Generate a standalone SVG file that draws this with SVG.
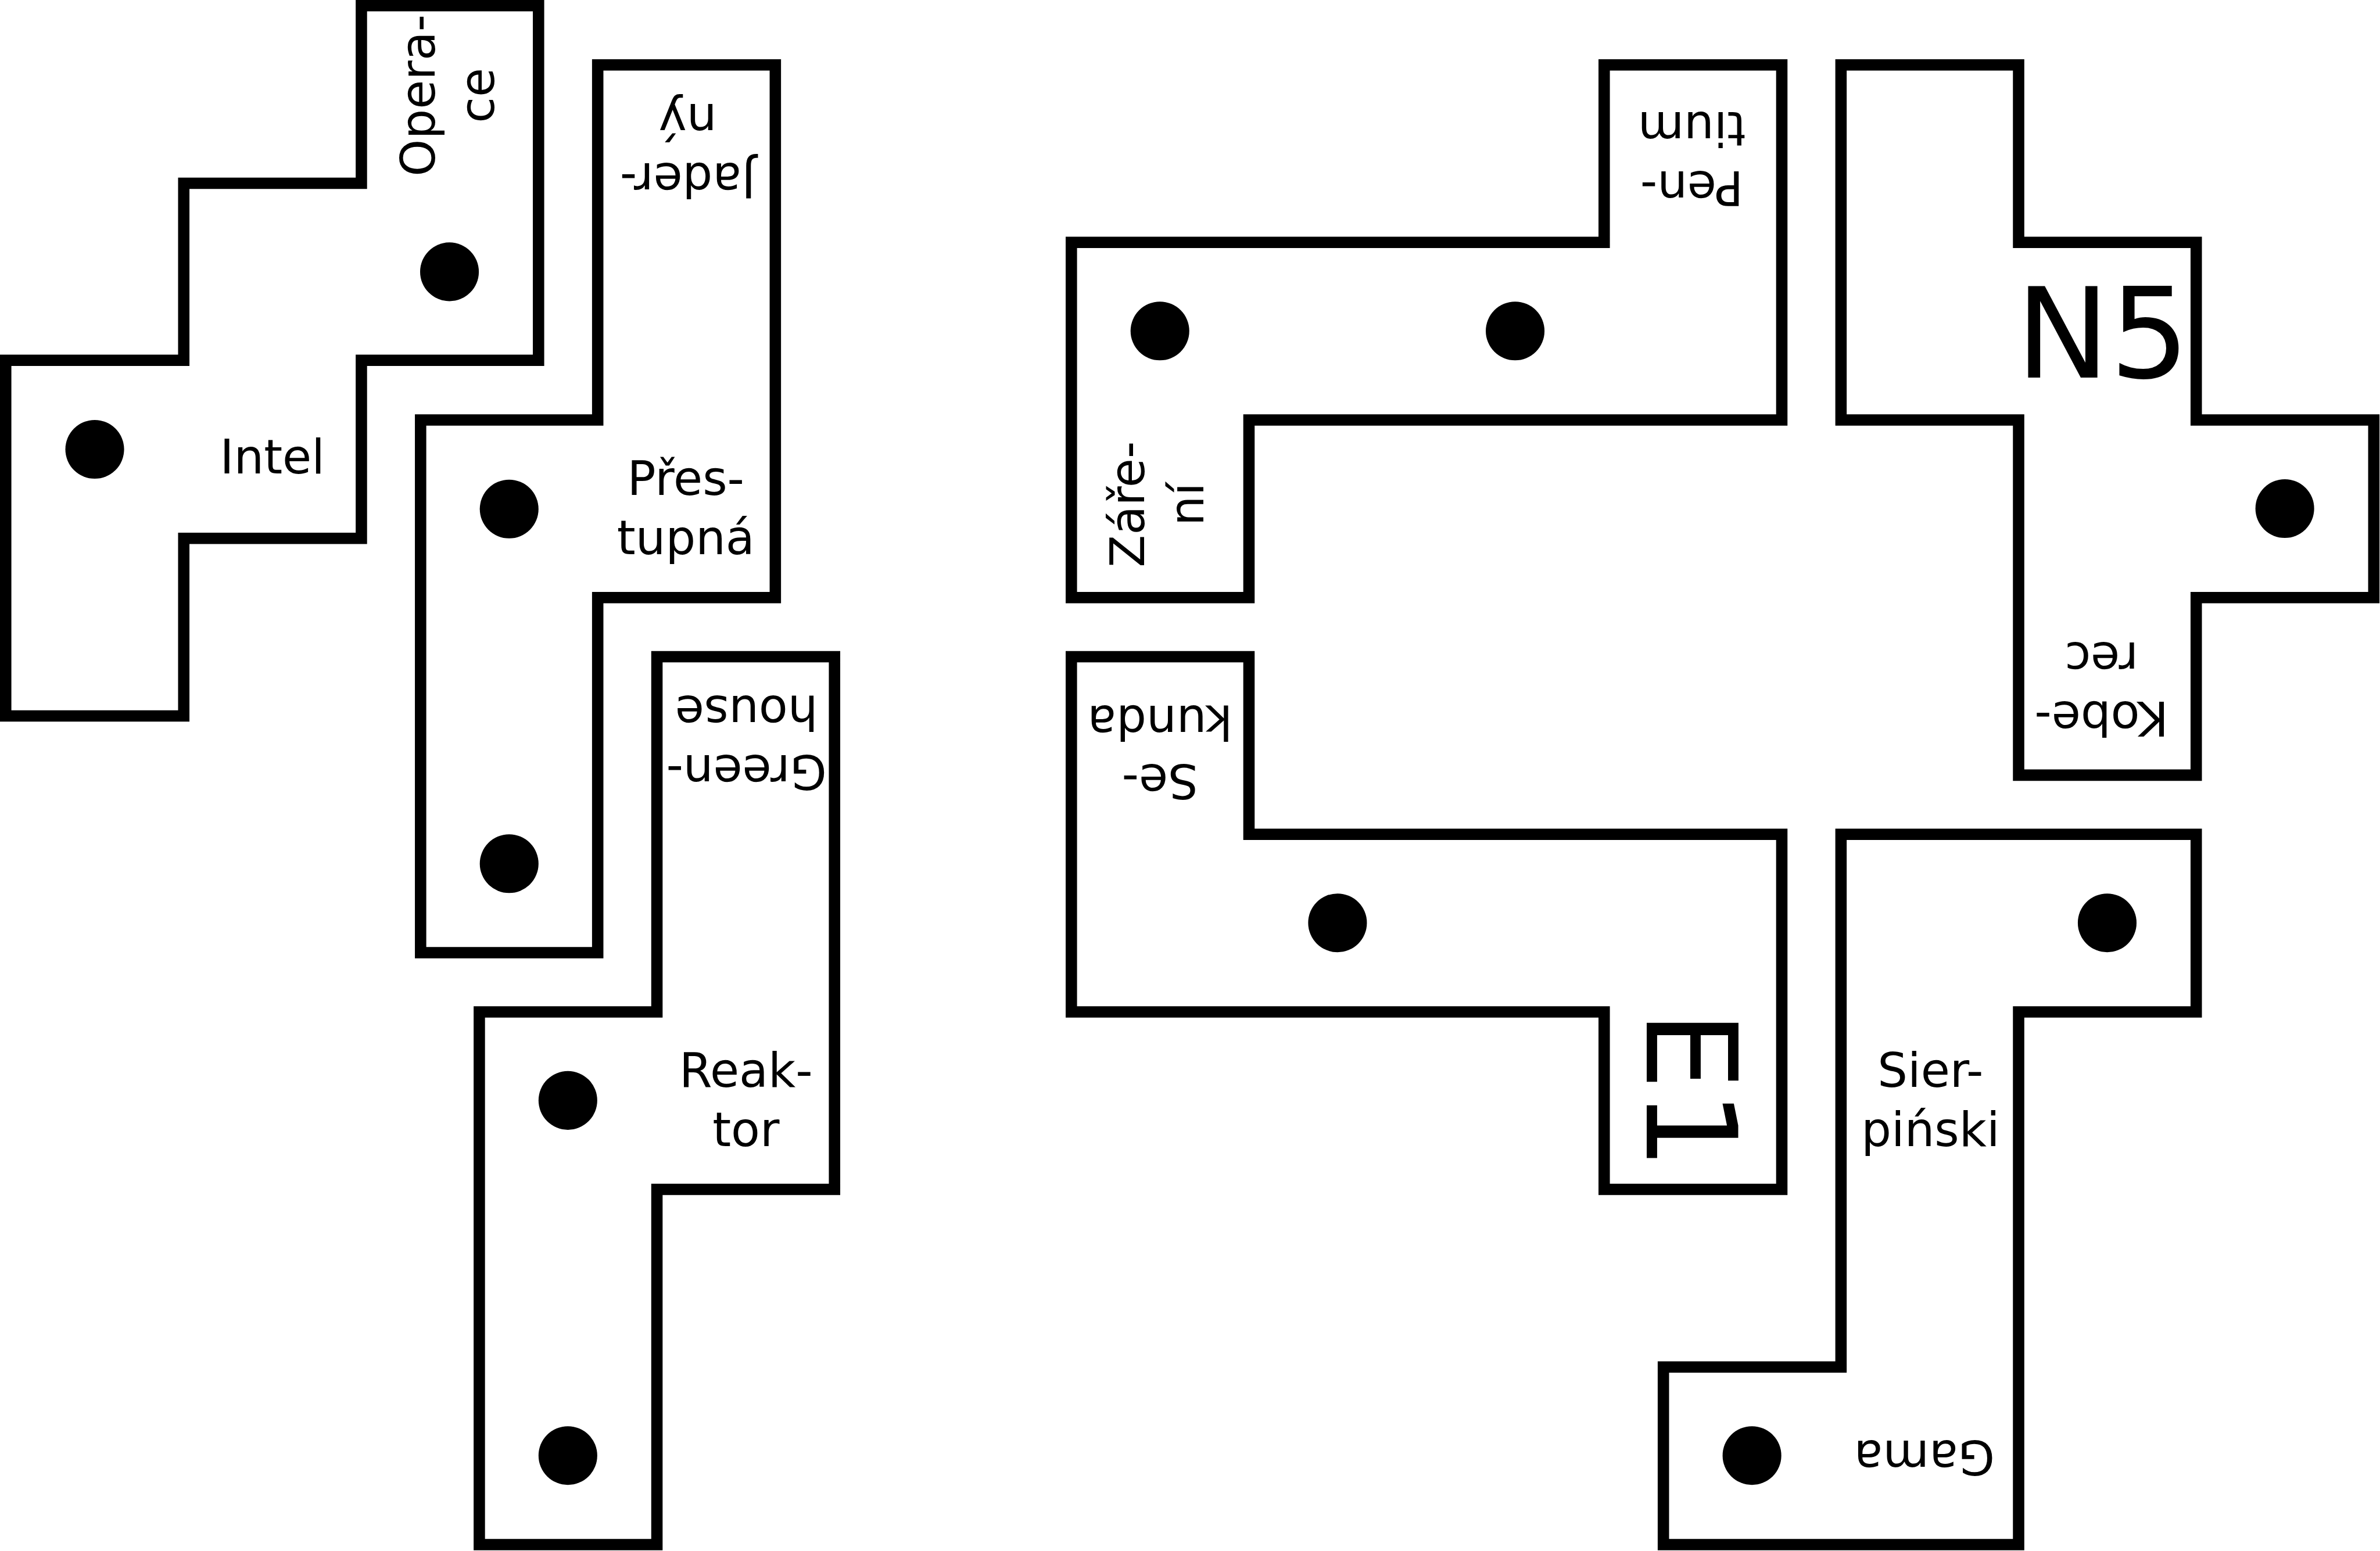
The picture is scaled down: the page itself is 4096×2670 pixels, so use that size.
<svg xmlns="http://www.w3.org/2000/svg" width="4096" height="2670" viewBox="0 0 4096 2670">
<style>
.piece{fill:#fff;stroke:#000;stroke-width:24;stroke-linejoin:miter}
.dot{fill:#000}
.lbl{font-family:"DejaVu Sans","Liberation Sans",sans-serif;font-size:100px;fill:#000;text-anchor:middle}
.big{font-family:"DejaVu Sans","Liberation Sans",sans-serif;font-size:265px;fill:#000}
</style>
<rect width="4096" height="2670" fill="#fff"/>
<g transform="scale(0.81512)">
<g id="intel">
<path class="piece" d="M763,12 H1137 V761 H763 V1137 H388 V1512 H12 V761 H388 V387 H763 Z"/>
<circle class="dot" cx="949" cy="574" r="62"/>
<circle class="dot" cx="200" cy="949" r="62"/>
<text class="lbl" x="575" y="1000">Intel</text>
<text class="lbl" transform="rotate(-90 918 201.5)"><tspan x="918" y="201.5">Opera-</tspan><tspan x="918" dy="125">ce</tspan></text>
</g>
<g id="prestupna">
<path class="piece" d="M1262,137 H1637 V1262 H1262 V2012 H888 V887 H1262 Z"/>
<circle class="dot" cx="1075" cy="1075" r="62"/>
<circle class="dot" cx="1075" cy="1824" r="62"/>
<text class="lbl"><tspan x="1448" y="1045">Přes-</tspan><tspan x="1448" dy="125">tupná</tspan></text>
<text class="lbl" transform="rotate(180 1452 345)"><tspan x="1452" y="345">Jader-</tspan><tspan x="1452" dy="125">ný</tspan></text>
</g>
<g id="reaktor">
<path class="piece" d="M1387,1387 H1762 V2512 H1387 V3262 H1012 V2137 H1387 Z"/>
<circle class="dot" cx="1199" cy="2324" r="62"/>
<circle class="dot" cx="1199" cy="3074" r="62"/>
<text class="lbl"><tspan x="1575" y="2295">Reak-</tspan><tspan x="1575" dy="125">tor</tspan></text>
<text class="lbl" transform="rotate(180 1576 1595)"><tspan x="1576" y="1595">Green-</tspan><tspan x="1576" dy="125">house</tspan></text>
</g>
<g id="zareni">
<path class="piece" d="M3387,137 H3762 V887 H2637 V1262 H2262 V512 H3387 Z"/>
<circle class="dot" cx="2449" cy="699" r="62"/>
<circle class="dot" cx="3199" cy="699" r="62"/>
<text class="lbl" transform="rotate(-90 2416 1065)"><tspan x="2416" y="1065">Záře-</tspan><tspan x="2416" dy="125">ní</tspan></text>
<text class="lbl" transform="rotate(180 3572 362)"><tspan x="3572" y="362">Pen-</tspan><tspan x="3572" dy="125">tium</tspan></text>
</g>
<g id="n5">
<path class="piece" d="M3887,137 H4262 V512 H4637 V887 H5012 V1262 H4637 V1637 H4262 V887 H3887 Z"/>
<circle class="dot" cx="4824" cy="1074" r="62"/>
<text class="big" x="4256" y="797">N5</text>
<text class="lbl" transform="rotate(180 4437 1482)"><tspan x="4437" y="1482">Kobe-</tspan><tspan x="4437" dy="125">rec</tspan></text>
</g>
<g id="sekunda">
<path class="piece" d="M2262,1387 H2637 V1762 H3762 V2512 H3387 V2137 H2262 Z"/>
<circle class="dot" cx="2824" cy="1949" r="62"/>
<text class="lbl" transform="rotate(180 2449 1615)"><tspan x="2449" y="1615">Se-</tspan><tspan x="2449" dy="125">kunda</tspan></text>
<text class="big" transform="rotate(90 3477 2134)" x="3477" y="2134">E1</text>
</g>
<g id="sierpinski">
<path class="piece" d="M3887,1762 H4637 V2137 H4262 V3262 H3512 V2887 H3887 Z"/>
<circle class="dot" cx="4449" cy="1949" r="62"/>
<circle class="dot" cx="3699" cy="3074" r="62"/>
<text class="lbl"><tspan x="4076" y="2295">Sier-</tspan><tspan x="4076" dy="125">piński</tspan></text>
<text class="lbl" transform="rotate(180 4063 3042)" x="4063" y="3042">Gama</text>
</g>
<g id="connectors"></g>
</g>
</svg>
